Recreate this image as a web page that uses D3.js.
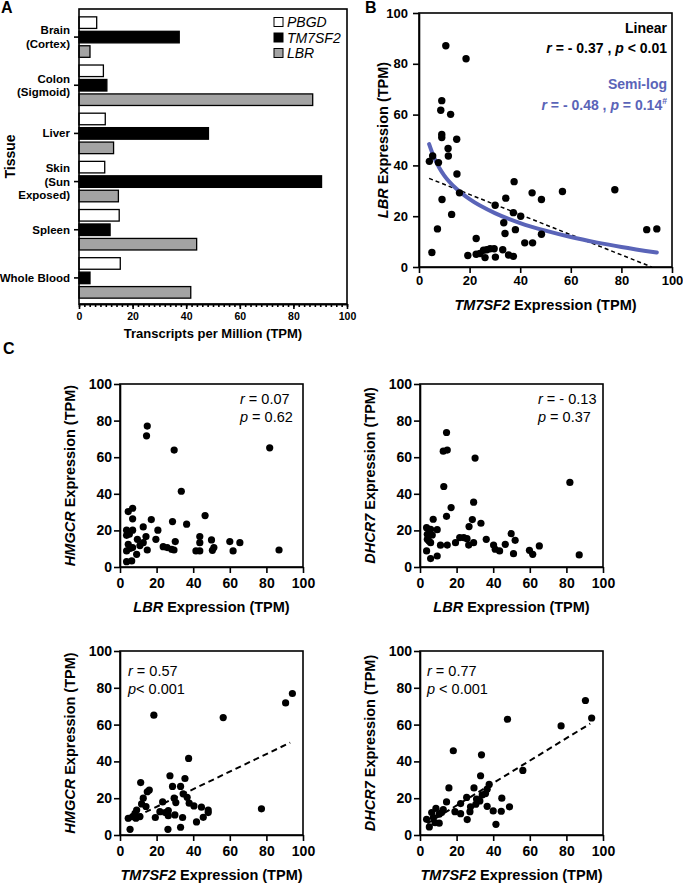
<!DOCTYPE html>
<html lang="en">
<head>
<meta charset="utf-8">
<title>TM7SF2 / LBR expression</title>
<script src="https://d3js.org/d3.v7.min.js"></script>
<style>
  body { margin: 0; background: #fff; }
  svg { font-family: "Liberation Sans", Arial, sans-serif; }
  .axis path, .axis line { stroke: #000; stroke-width: 1.6; }
  .axis text { font-weight: bold; fill: #000; }
</style>
</head>
<body>
<svg id="fig" width="683" height="884"></svg>
<script>
// ---- panel A: GTEx tissue expression ----
const tissueLines = [["Brain", "(Cortex)"], ["Colon", "(Sigmoid)"], ["Liver"],
                     ["Skin", "(Sun", "Exposed)"], ["Spleen"], ["Whole Blood"]];
const genes = ["PBGD", "TM7SF2", "LBR"];
const geneFill = ["#ffffff", "#000000", "#a3a3a3"];
const pbgdTpm   = [6.6, 9.1, 9.8, 9.6, 15.0, 15.4];
const tm7sf2Tpm = [37.4, 10.4, 48.3, 90.5, 11.6, 4.1];
const lbrTpm    = [4.1, 87.2, 12.9, 14.7, 43.9, 41.7];
const axisTicks = [0, 20, 40, 60, 80, 100];

// ---- panel B: LBR vs TM7SF2 ----
const lbrVsTm7 = [[10.6,87.1],[18.6,82.0],[9.0,65.5],[8.6,61.7],[12.5,60.1],[9.0,52.2],[9.0,51.0],
  [14.9,50.3],[11.5,46.7],[11.6,43.7],[4.1,41.6],[5.4,43.7],[7.7,41.1],[15.0,36.6],[16.0,29.2],
  [9.1,26.6],[12.9,20.7],[7.3,15.0],[5.1,5.7],[19.3,4.5],[22.6,11.2],[22.6,5.0],[24.1,5.3],
  [25.5,6.6],[26.1,3.7],[26.8,6.8],[28.1,7.2],[29.7,7.2],[30.2,3.9],[30.1,24.3],[33.1,6.8],
  [33.5,17.4],[34.3,27.1],[34.0,13.2],[35.4,4.7],[37.3,4.2],[37.3,21.4],[37.6,33.6],[38.1,14.7],
  [40.2,20.0],[41.8,9.5],[44.9,9.5],[44.7,29.2],[48.4,26.6],[48.4,12.9],[56.7,29.7],[77.4,30.4],
  [90.0,14.7],[94.0,15.0]];
const linearFitX = [4, 92];
const linearFitY = [34.9, 0];
const semiLogX = [4, 6, 8, 10, 15, 20, 30, 40, 50, 60, 70, 80, 94];
const semiLogY = [48.4, 43.0, 39.1, 36.0, 30.6, 26.7, 21.2, 17.3, 14.3, 11.8, 9.7, 7.9, 5.7];

// ---- panel C ----
const hmgcrVsLbr = [[14.9,77.0],[14.5,71.7],[29.6,63.9],[81.8,65.1],[33.5,41.4],[4.5,30.3],[6.9,32.1],
  [6.9,26.3],[17.1,25.9],[46.5,28.1],[28.7,24.8],[36.4,23.4],[3.6,20.1],[6.9,20.1],[3.6,17.3],
  [5.1,17.9],[12.7,21.9],[20.7,20.1],[9.5,15.1],[19.6,15.1],[14.2,16.6],[12.7,13.3],[10.9,11.7],
  [4.5,12.4],[5.5,10.2],[3.6,8.8],[6.9,10.6],[14.9,9.3],[9.1,6.9],[3.6,2.9],[6.4,3.3],[23.6,11.1],
  [25.8,10.6],[28.2,9.7],[29.5,9.3],[30.2,13.9],[43.6,13.3],[43.6,8.8],[41.5,8.8],[43.6,16.6],
  [50.0,14.8],[51.3,10.6],[50.5,9.1],[60.0,13.9],[61.8,8.8],[65.5,13.3],[86.9,9.3]];
const dhcr7VsLbr = [[14.5,73.5],[12.7,63.3],[14.9,63.9],[30.1,59.5],[81.9,46.2],[13.0,44.0],[17.0,32.5],
  [29.3,35.4],[14.5,27.7],[7.2,26.1],[28.6,25.9],[33.3,23.9],[26.8,22.1],[3.6,21.5],[5.8,20.6],
  [9.4,20.4],[4.0,17.9],[6.7,17.5],[21.7,16.1],[23.9,16.1],[25.7,15.5],[49.8,18.2],[36.2,15.1],
  [4.0,15.1],[5.8,13.3],[19.4,13.3],[26.6,12.0],[29.3,13.3],[52.0,14.6],[46.6,12.4],[40.2,12.0],
  [41.1,9.7],[43.5,8.8],[11.2,11.9],[14.9,12.0],[65.2,11.5],[59.8,9.1],[61.6,6.9],[51.1,7.3],
  [3.6,8.8],[5.8,4.6],[9.4,6.0],[87.0,6.6],[4.9,14.2]];
const hmgcrVsTm7 = [[94.2,76.9],[90.5,71.8],[18.5,65.1],[56.4,63.8],[37.5,41.6],[27.3,32.2],[35.5,30.7],
  [11.3,28.5],[16.0,24.4],[14.9,23.5],[28.7,26.4],[33.1,26.4],[34.5,22.4],[29.6,20.0],[36.7,20.5],
  [12.7,20.0],[11.8,16.9],[14.2,15.5],[30.5,17.6],[37.8,17.3],[40.4,15.8],[44.5,15.1],[48.2,13.6],
  [48.2,12.2],[23.3,18.0],[21.8,12.7],[24.7,12.2],[26.4,13.3],[26.4,10.5],[30.0,10.9],[34.2,9.5],
  [45.5,9.6],[41.8,7.1],[19.3,9.5],[9.1,13.6],[8.2,11.8],[6.9,10.0],[10.9,10.0],[4.5,9.1],[8.7,9.1],
  [5.5,3.1],[26.2,3.1],[33.1,4.2],[77.3,14.2]];
const dhcr7VsTm7 = [[90.4,73.1],[93.8,63.6],[47.8,62.9],[77.1,59.3],[18.2,45.8],[33.6,43.6],[56.2,35.1],
  [33.1,32.2],[15.8,25.6],[29.5,25.6],[37.8,27.5],[36.7,24.9],[25.5,20.4],[34.0,21.8],[35.8,22.5],
  [30.9,19.5],[14.5,18.0],[44.7,20.0],[22.2,17.1],[30.5,16.7],[32.7,18.5],[27.6,15.3],[36.7,15.6],
  [8.7,14.5],[12.7,13.8],[6.4,12.2],[11.8,12.2],[19.1,12.7],[40.0,13.1],[44.4,12.9],[48.9,15.3],
  [22.2,11.6],[27.3,12.7],[25.8,8.4],[10.5,11.3],[3.6,8.5],[5.1,4.4],[8.2,6.7],[10.5,6.4],[41.5,5.8],
  [7.3,9.5]];
const hmgcrTm7FitY = [7.7, 50.2];
const dhcr7Tm7FitY = [6.3, 60.5];
const cFitX = [4, 93];

const svg = d3.select("#fig");
const FONT = "Liberation Sans, Arial, sans-serif";

function richText(parent, x, y, parts, opt) {
  const t = parent.append("text").attr("x", x).attr("y", y)
    .attr("text-anchor", opt.anchor || "start")
    .attr("font-size", opt.size)
    .attr("font-weight", opt.weight || "normal")
    .attr("fill", opt.color || "#000");
  if (opt.rotate) t.attr("transform", `rotate(-90 ${x} ${y})`);
  parts.forEach(p => {
    const s = t.append("tspan").text(p[0]);
    if (p[1] === "i") s.attr("font-style", "italic");
    if (p[1] === "sup") s.attr("font-size", opt.size * 0.62).attr("dy", -opt.size * 0.42);
  });
  return t;
}

function panelLabel(x, y, s) {
  svg.append("text").attr("x", x).attr("y", y).attr("font-size", 16)
    .attr("font-weight", "bold").text(s);
}

// ================= Panel A =================
(function () {
  const left = 79, right = 347, top = 9, bottom = 304;
  const x = d3.scaleLinear().domain([0, 100]).range([left, right]);
  const y = d3.scaleBand().domain(d3.range(tissueLines.length)).range([13, 302])
    .paddingInner(0.16).paddingOuter(0.08);
  const sub = d3.scaleBand().domain(genes).range([0, y.bandwidth()]).paddingInner(0.2);
  const g = svg.append("g");
  const series = [pbgdTpm, tm7sf2Tpm, lbrTpm];

  genes.forEach((gene, gi) => {
    g.selectAll(null).data(series[gi]).enter().append("rect")
      .attr("x", x(0))
      .attr("y", (d, i) => y(i) + sub(gene))
      .attr("width", d => x(d) - x(0))
      .attr("height", sub.bandwidth())
      .attr("fill", geneFill[gi])
      .attr("stroke", "#000").attr("stroke-width", 1.3);
  });

  g.append("rect").attr("x", left).attr("y", top).attr("width", right - left)
    .attr("height", bottom - top).attr("fill", "none").attr("stroke", "#000").attr("stroke-width", 1.6);

  // minor ticks
  g.append("g").attr("class", "axis").attr("transform", `translate(0,${bottom})`)
    .call(d3.axisBottom(x).ticks(50).tickSize(3).tickFormat("").tickSizeOuter(0))
    .selectAll("line").attr("stroke-width", 1);
  g.append("g").attr("class", "axis").attr("transform", `translate(0,${bottom})`)
    .call(d3.axisBottom(x).tickValues(axisTicks).tickSize(5).tickPadding(4).tickSizeOuter(0))
    .attr("font-size", 10.5).attr("font-family", FONT);

  const ya = g.append("g").attr("class", "axis").attr("transform", `translate(${left},0)`)
    .call(d3.axisLeft(y).tickSize(5).tickFormat("").tickSizeOuter(0));
  ya.select(".domain").remove();
  tissueLines.forEach((lines, i) => {
    const cy = y(i) + y.bandwidth() / 2;
    const lh = 13.5;
    const t = g.append("text").attr("text-anchor", "end").attr("font-size", 11.5)
      .attr("font-weight", "bold");
    lines.forEach((ln, k) => {
      t.append("tspan").attr("x", 70)
        .attr("y", cy + 4 + (k - (lines.length - 1) / 2) * lh).text(ln);
    });
  });

  // legend
  genes.forEach((gene, gi) => {
    const ly = 22 + gi * 15.5;
    g.append("rect").attr("x", 274).attr("y", ly - 4.5).attr("width", 9).attr("height", 9)
      .attr("fill", geneFill[gi]).attr("stroke", "#000").attr("stroke-width", 1);
    g.append("text").attr("x", 287).attr("y", ly + 5).attr("font-size", 14)
      .attr("font-style", "italic").text(gene);
  });

  g.append("text").attr("x", (left + right) / 2).attr("y", 338).attr("text-anchor", "middle")
    .attr("font-size", 13).attr("font-weight", "bold").text("Transcripts per Million (TPM)");
  richText(g, 15, (top + bottom) / 2, [["Tissue"]], { size: 14, weight: "bold", anchor: "middle", rotate: true });
  panelLabel(1, 13, "A");
})();

// ================= scatter helper =================
function scatter(cfg) {
  const x = d3.scaleLinear().domain([0, 100]).range([cfg.left, cfg.right]);
  const y = d3.scaleLinear().domain([0, 100]).range([cfg.bottom, cfg.top]);
  const g = svg.append("g");

  g.append("rect").attr("x", cfg.left).attr("y", cfg.top).attr("width", cfg.right - cfg.left)
    .attr("height", cfg.bottom - cfg.top).attr("fill", "none").attr("stroke", "#000").attr("stroke-width", 1.6);

  g.append("g").attr("class", "axis").attr("transform", `translate(0,${cfg.bottom})`)
    .call(d3.axisBottom(x).tickValues(axisTicks).tickSize(6).tickPadding(cfg.xPad).tickSizeOuter(0))
    .attr("font-size", cfg.tickSize).attr("font-family", FONT);
  g.append("g").attr("class", "axis").attr("transform", `translate(${cfg.left},0)`)
    .call(d3.axisLeft(y).tickValues(axisTicks).tickSize(6).tickPadding(cfg.yPad).tickSizeOuter(0))
    .attr("font-size", cfg.tickSize).attr("font-family", FONT);

  if (cfg.fitX) {
    g.append("path").datum(d3.zip(cfg.fitX, cfg.fitY))
      .attr("d", d3.line().x(d => x(d[0])).y(d => y(d[1])))
      .attr("fill", "none").attr("stroke", "#000").attr("stroke-width", cfg.dashW || 1.8)
      .attr("stroke-dasharray", cfg.dash || "5,3.5");
  }
  if (cfg.curveX) {
    g.append("path").datum(d3.zip(cfg.curveX, cfg.curveY))
      .attr("d", d3.line().x(d => x(d[0])).y(d => y(d[1])).curve(d3.curveMonotoneX))
      .attr("fill", "none").attr("stroke", cfg.curveColor).attr("stroke-width", 4)
      .attr("stroke-linecap", "round");
  }

  g.selectAll("circle").data(cfg.pts).enter().append("circle")
    .attr("cx", d => x(d[0])).attr("cy", d => y(d[1])).attr("r", cfg.r || 3.6)
    .attr("fill", "#000");

  richText(g, (cfg.left + cfg.right) / 2, cfg.xTitleY, cfg.xTitle,
    { size: 14.5, weight: "bold", anchor: "middle" });
  richText(g, cfg.yTitleX, (cfg.top + cfg.bottom) / 2, cfg.yTitle,
    { size: 14.5, weight: "bold", anchor: "middle", rotate: true });

  (cfg.notes || []).forEach(n => richText(g, n.x, n.y, n.parts,
    { size: n.size, weight: n.weight, anchor: n.anchor, color: n.color }));
}

const BLUE = "#5a64b8";
const lbrTitle = [["LBR", "i"], [" Expression (TPM)"]];
const tm7Title = [["TM7SF2", "i"], [" Expression (TPM)"]];

// ================= Panel B =================
scatter({
  left: 419, right: 672, top: 13, bottom: 267, tickSize: 13, xPad: 3, yPad: 5,
  pts: lbrVsTm7, r: 3.7,
  fitX: linearFitX, fitY: linearFitY, dash: "4,3", dashW: 1.5,
  curveX: semiLogX, curveY: semiLogY, curveColor: BLUE,
  xTitle: tm7Title, xTitleY: 310, yTitle: lbrTitle, yTitleX: 388,
  notes: [
    { x: 667, y: 33, parts: [["Linear"]], size: 14, weight: "bold", anchor: "end" },
    { x: 667, y: 53, parts: [["r", "i"], [" = - 0.37 , "], ["p", "i"], [" < 0.01"]], size: 14, weight: "bold", anchor: "end" },
    { x: 667, y: 89, parts: [["Semi-log"]], size: 14, weight: "bold", anchor: "end", color: BLUE },
    { x: 667, y: 110, parts: [["r", "i"], [" = - 0.48 , "], ["p", "i"], [" = 0.14"], ["#", "sup"]], size: 14, weight: "bold", anchor: "end", color: BLUE }
  ]
});
panelLabel(365, 13, "B");

// ================= Panel C =================
panelLabel(3, 354, "C");
scatter({
  left: 120, right: 303, top: 384, bottom: 567, tickSize: 14, xPad: 5, yPad: 2,
  pts: hmgcrVsLbr,
  xTitle: lbrTitle, xTitleY: 612, yTitle: [["HMGCR", "i"], [" Expression (TPM)"]], yTitleX: 75,
  notes: [
    { x: 240, y: 404, parts: [["r", "i"], [" = 0.07"]], size: 14.5 },
    { x: 240, y: 422, parts: [["p", "i"], [" = 0.62"]], size: 14.5 }
  ]
});
scatter({
  left: 420, right: 603, top: 384, bottom: 567, tickSize: 14, xPad: 5, yPad: 2,
  pts: dhcr7VsLbr,
  xTitle: lbrTitle, xTitleY: 612, yTitle: [["DHCR7", "i"], [" Expression (TPM)"]], yTitleX: 375,
  notes: [
    { x: 538, y: 404, parts: [["r", "i"], [" = - 0.13"]], size: 14.5 },
    { x: 538, y: 422, parts: [["p", "i"], [" = 0.37"]], size: 14.5 }
  ]
});
scatter({
  left: 120, right: 303, top: 651, bottom: 835, tickSize: 14, xPad: 5, yPad: 2,
  pts: hmgcrVsTm7, fitX: cFitX, fitY: hmgcrTm7FitY, dash: "6,4", dashW: 2,
  xTitle: tm7Title, xTitleY: 880, yTitle: [["HMGCR", "i"], [" Expression (TPM)"]], yTitleX: 75,
  notes: [
    { x: 128, y: 676, parts: [["r", "i"], [" = 0.57"]], size: 14.5 },
    { x: 128, y: 694, parts: [["p", "i"], ["< 0.001"]], size: 14.5 }
  ]
});
scatter({
  left: 420, right: 603, top: 651, bottom: 835, tickSize: 14, xPad: 5, yPad: 2,
  pts: dhcr7VsTm7, fitX: cFitX, fitY: dhcr7Tm7FitY, dash: "6,4", dashW: 2,
  xTitle: tm7Title, xTitleY: 880, yTitle: [["DHCR7", "i"], [" Expression (TPM)"]], yTitleX: 375,
  notes: [
    { x: 427, y: 676, parts: [["r", "i"], [" = 0.77"]], size: 14.5 },
    { x: 427, y: 694, parts: [["p", "i"], [" < 0.001"]], size: 14.5 }
  ]
});
</script>
</body>
</html>
